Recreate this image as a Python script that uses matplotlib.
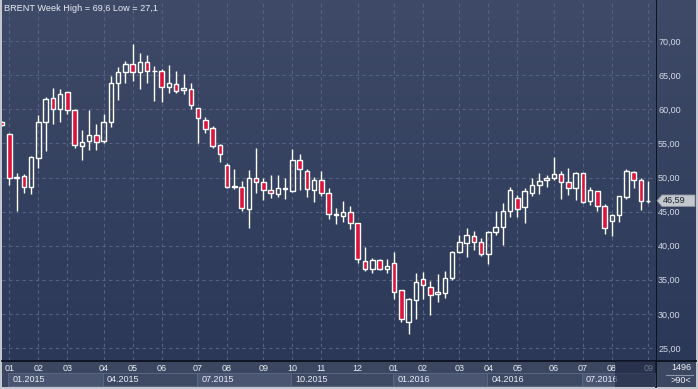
import numpy as np
import matplotlib
matplotlib.use("Agg")
import matplotlib.pyplot as plt
from matplotlib.patches import Rectangle, Polygon
from matplotlib.transforms import blended_transform_factory

# weekly Brent candles, Dec 2014 .. Sep 2016
opens = [58.1, 56.4, 50.0, 50.2, 48.6, 52.8, 58.1, 61.6, 60.1, 62.5,
         59.85, 54.6, 55.3, 56.2, 55.4, 58.1, 63.8, 65.4, 66.6, 65.4,
         66.9, 65.55, 65.6, 63.2, 63.65, 62.8, 63.0, 60.2, 58.5, 57.2,
         54.7, 51.9, 48.6, 48.65, 45.35, 50.0, 49.3, 48.2, 47.6, 48.3,
         48.05, 52.6, 50.95, 48.1, 49.6, 47.7, 44.5, 44.4, 44.9, 43.3,
         37.8, 36.6, 37.85, 36.55, 37.4, 33.45, 28.8, 32.05, 35.05, 34.0,
         32.9, 33.1, 35.2, 39.1, 40.35, 41.4, 40.5, 38.75, 41.95, 42.7,
         45.1, 46.95, 45.7, 47.8, 48.85, 49.6, 49.9, 50.5, 49.3, 48.5,
         50.6, 46.6, 48.0, 45.8, 43.65, 44.45, 47.1, 50.75, 49.6, 46.55]
highs = [58.3, 56.5, 50.6, 50.5, 53.15, 59.2, 61.75, 63.1, 63.0, 62.6,
         60.1, 57.0, 59.9, 57.85, 59.3, 64.9, 66.2, 67.1, 69.6, 68.2,
         68.0, 66.35, 65.9, 66.5, 65.65, 65.2, 63.9, 60.25, 58.8, 57.55,
         54.95, 52.1, 51.25, 49.5, 51.1, 54.4, 50.0, 50.3, 50.3, 49.9,
         54.2, 53.45, 51.2, 50.1, 50.95, 48.4, 45.5, 46.55, 45.8, 43.35,
         39.8, 38.2, 38.0, 38.0, 39.1, 33.5, 32.4, 35.95, 36.1, 34.8,
         35.85, 36.3, 39.2, 41.55, 42.55, 42.1, 41.1, 42.15, 45.05, 46.2,
         48.6, 47.45, 48.5, 49.9, 50.65, 50.35, 53.05, 50.95, 51.35, 50.8,
         50.65, 48.55, 48.05, 46.1, 44.65, 47.25, 51.25, 50.95, 49.9, 49.5]
lows = [57.5, 48.9, 45.1, 47.8, 47.6, 51.4, 53.9, 57.8, 58.2, 59.3,
        54.4, 52.5, 54.0, 54.0, 55.05, 57.45, 61.35, 63.9, 64.15, 63.0,
        63.9, 61.25, 61.0, 62.4, 62.35, 62.2, 60.1, 55.1, 56.5, 54.4,
        52.3, 48.4, 48.3, 45.15, 42.6, 47.8, 46.7, 46.95, 47.2, 46.9,
        47.9, 48.2, 47.2, 46.45, 47.3, 43.9, 43.2, 43.5, 42.5, 37.4,
        36.35, 36.05, 36.45, 36.05, 32.15, 28.8, 27.1, 29.3, 32.2, 29.9,
        31.8, 32.4, 34.9, 38.9, 38.35, 39.3, 38.55, 37.3, 41.5, 40.15,
        44.25, 44.2, 43.35, 47.35, 47.6, 48.65, 49.6, 46.85, 47.45, 46.7,
        46.2, 45.9, 45.1, 41.7, 41.45, 43.5, 46.85, 48.5, 45.25, 46.3]
closes = [57.7, 50.0, 50.1, 48.6, 53.0, 58.2, 61.5, 60.1, 62.2, 59.85,
          54.7, 55.2, 56.2, 55.2, 58.1, 63.8, 65.5, 66.6, 65.4, 66.9,
          65.6, 65.65, 63.2, 63.8, 62.7, 63.1, 60.6, 58.7, 57.1, 54.6,
          53.4, 48.55, 48.7, 45.5, 49.9, 49.3, 48.1, 47.8, 48.4, 48.4,
          52.5, 51.3, 48.3, 49.6, 47.8, 44.6, 44.6, 44.9, 43.3, 38.0,
          36.55, 37.85, 36.55, 37.0, 33.25, 29.2, 32.15, 34.75, 34.2, 32.7,
          33.2, 35.2, 39.05, 40.5, 41.5, 40.5, 38.75, 41.95, 42.8, 45.1,
          48.1, 45.4, 48.0, 48.85, 49.45, 49.9, 50.5, 49.3, 48.4, 50.65,
          46.45, 48.2, 45.8, 42.55, 44.45, 47.25, 50.95, 49.6, 46.6, 46.59]

# first candle of each month and its label
month_start = [1, 5, 9, 14, 18, 22, 27, 31, 36, 40, 44, 49,
               54, 58, 63, 67, 71, 76, 80, 84, 89]
month_labels = ["01", "02", "03", "04", "05", "06", "07", "08", "09", "10", "11", "12",
                "01", "02", "03", "04", "05", "06", "07", "08", "09"]
quarter_start = [1, 14, 27, 40, 54, 67, 80]
quarter_labels = ["01.2015", "04.2015", "07.2015", "10.2015", "01.2016", "04.2016", "07.2016"]
price_ticks = [25, 30, 35, 40, 45, 50, 55, 60, 65, 70]

title = "BRENT Week High = 69,6 Low = 27,1"
last_price = closes[-1]

W, H = 698, 389
plt.rcParams['font.family'] = ['Liberation Sans', 'DejaVu Sans']
fig = plt.figure(figsize=(W / 100, H / 100), dpi=100, facecolor='#c3c8d0')

# pixel-space background panels
bg = fig.add_axes([0, 0, 1, 1], zorder=0)
bg.set_xlim(0, W)
bg.set_ylim(H, 0)
bg.axis('off')
bg.add_patch(Rectangle((2, 0), 694, 387, color='#3b4661', lw=0))
grad = np.linspace(0, 1, 256).reshape(-1, 1)
top_c = np.array([0x3e, 0x4a, 0x67]) / 255
bot_c = np.array([0x2b, 0x38, 0x58]) / 255
grad_img = top_c[None, None, :] * (1 - grad[..., None]) + bot_c[None, None, :] * grad[..., None]
bg.imshow(grad_img, extent=(656, 696, 360, 0), aspect='auto', zorder=1)
bg.plot([656, 656], [0, 387], color='#0b101c', lw=1.3, zorder=3)
bg.plot([2, 696], [360.5, 360.5], color='#0b101c', lw=1.3, zorder=3)
bg.text(681, 368, "1496", color='#eef1f6', fontsize=6.5, ha='center', va='center', zorder=3)
bg.plot([666, 693], [374.5, 374.5], color='#8c96aa', lw=0.8, zorder=3)
bg.text(681, 380.5, ">90<", color='#eef1f6', fontsize=6.5, ha='center', va='center', zorder=3)

# candle chart
ax = fig.add_axes([2 / W, (H - 360) / H, 654 / W, 360 / H], zorder=1)
ax.set_facecolor('none')
ax.imshow(grad_img, extent=(0, 1, 0, 1), transform=ax.transAxes, aspect='auto', zorder=0)

x = np.arange(len(closes))
o = np.array(opens)
c = np.array(closes)
hi = np.array(highs)
lo = np.array(lows)
body_top = np.maximum(o, c)
body_bot = np.minimum(o, c)
fills = ['#dc143c' if cc < oo else 'none' for oo, cc in zip(o, c)]

ax.vlines(x, body_top, hi, color='white', lw=1, zorder=2)
ax.vlines(x, lo, body_bot, color='white', lw=1, zorder=2)
ax.bar(x, np.maximum(body_top - body_bot, 0.06), bottom=body_bot, width=0.62,
       color=fills, edgecolor='white', linewidth=1, zorder=3)

ax.set_xlim(0, 90.08)
ax.set_ylim(23.24, 76.03)

for s in ax.spines.values():
    s.set_visible(False)
ax.set_yticks(price_ticks)
ax.set_yticklabels([f"{p:.2f}".replace('.', ',') for p in price_ticks])
ax.yaxis.tick_right()
ax.tick_params(axis='y', length=0, pad=1.5, labelsize=6.5, labelcolor='#d3d9e6')
ax.set_xticks(month_start)
ax.set_xticklabels(month_labels)
ax.tick_params(axis='x', length=0, pad=3, labelsize=6.5, labelcolor='#e8ecf4')
ax.set_axisbelow(True)
ax.grid(True, color='#56627f', linestyle=(0, (3, 3)), lw=0.8)

# quarter band under the month labels
qt = blended_transform_factory(ax.transData, ax.transAxes)
q_edges = quarter_start + [ax.get_xlim()[1]]
for i, (q0, lab) in enumerate(zip(quarter_start, quarter_labels)):
    q1 = q_edges[i + 1]
    face = '#4a5671' if i % 2 == 0 else '#3e4964'
    ax.add_patch(Rectangle((q0 - 0.15, -0.0361), q1 - q0, -0.0361, transform=qt,
                           facecolor=face, edgecolor='#5b6782', lw=0.7, clip_on=False, zorder=1))
    ax.text(q0 + 0.45, -0.0555, lab, transform=qt, color='#e8ecf4', fontsize=6.5,
            va='center', ha='left', clip_on=False)

ax.text(0.003, 0.977, title, transform=ax.transAxes, color='#e8ecf4', fontsize=6.6,
        va='center', ha='left')

# overlay: scroll shade and last-price tag
ov = fig.add_axes([0, 0, 1, 1], zorder=5)
ov.set_xlim(0, W)
ov.set_ylim(H, 0)
ov.axis('off')
ov.add_patch(Rectangle((615, 361), 41, 25.5, color='#1d2640', alpha=0.6, lw=0))
tt = blended_transform_factory(ov.transData, ax.transData)
dy = 0.85
ov.add_patch(Polygon([(657, last_price), (662, last_price + dy), (695, last_price + dy),
                      (695, last_price - dy), (662, last_price - dy)], closed=True,
                     transform=tt, facecolor='#c3c7ce', edgecolor='#8a909c', lw=0.6))
ov.text(663, last_price, f"{last_price:.2f}".replace('.', ','), transform=tt,
        color='#1a1f2b', fontsize=6.5, va='center', ha='left')

fig.savefig("out.png", dpi=100, facecolor=fig.get_facecolor())
